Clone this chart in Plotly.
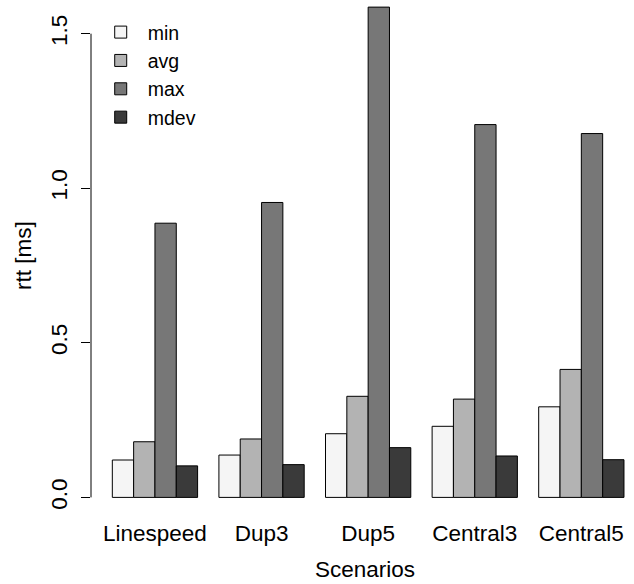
import plotly.graph_objects as go

scenarios = ["Linespeed", "Dup3", "Dup5", "Central3", "Central5"]
series_names = ["min", "avg", "max", "mdev"]
min_vals = [0.121, 0.137, 0.206, 0.230, 0.293]
avg_vals = [0.180, 0.189, 0.327, 0.318, 0.414]
max_vals = [0.887, 0.954, 1.586, 1.206, 1.177]
mdev_vals = [0.102, 0.106, 0.161, 0.134, 0.122]
colors = ["#F5F5F5", "#B3B3B3", "#777777", "#3A3A3A"]
y_tickvals = [0.0, 0.5, 1.0, 1.5]
y_ticktext = ["0.0", "0.5", "1.0", "1.5"]

FONT = "Liberation Sans, Arial, Helvetica, sans-serif"
FS = 22.5

fig = go.Figure()
for name, vals, col in zip(series_names, [min_vals, avg_vals, max_vals, mdev_vals], colors):
    fig.add_trace(go.Bar(
        x=scenarios, y=vals, name=name,
        marker=dict(color=col, line=dict(color="black", width=1)),
    ))

W, H = 634, 584
ml, mr, mt, mb = 91, 0, 0, 67
fig.update_layout(
    width=W, height=H,
    margin=dict(l=ml, r=mr, t=mt, b=mb),
    paper_bgcolor="white", plot_bgcolor="white",
    barmode="group", bargap=0.2, bargroupgap=0,
    font=dict(family=FONT, size=FS, color="black"),
    showlegend=True,
    legend=dict(
        x=0.005, y=0.975, xanchor="left", yanchor="top",
        bgcolor="rgba(0,0,0,0)", font=dict(size=19.5),
        tracegroupgap=0, itemwidth=44,
    ),
    xaxis=dict(
        range=[-0.6, 4.494], showline=False, showgrid=False, zeroline=False,
        ticks="", tickfont=dict(size=FS),
    ),
    yaxis=dict(
        range=[-0.0634, 1.609], showline=False, showgrid=False, zeroline=False,
        tickvals=y_tickvals, ticktext=y_ticktext, ticks="outside", ticklen=9,
        tickcolor="black", tickwidth=1, tickangle=-90, tickfont=dict(size=FS),
        ticklabelstandoff=5,
    ),
    shapes=[dict(type="line", xref="paper", yref="y", x0=0, x1=0,
                 y0=y_tickvals[0], y1=y_tickvals[-1],
                 line=dict(color="black", width=1))],
    annotations=[
        dict(text="Scenarios", xref="paper", yref="paper",
             x=(365 - ml) / (W - ml - mr), y=-(569 - (H - mb)) / (H - mt - mb),
             xanchor="center", yanchor="middle", showarrow=False,
             font=dict(size=FS)),
        dict(text="rtt [ms]", xref="paper", yref="paper", textangle=-90,
             x=(23 - ml) / (W - ml - mr), y=((H - mb) - 255) / (H - mt - mb),
             xanchor="center", yanchor="middle", showarrow=False,
             font=dict(size=FS)),
    ],
)

fig.write_html("out.html")
